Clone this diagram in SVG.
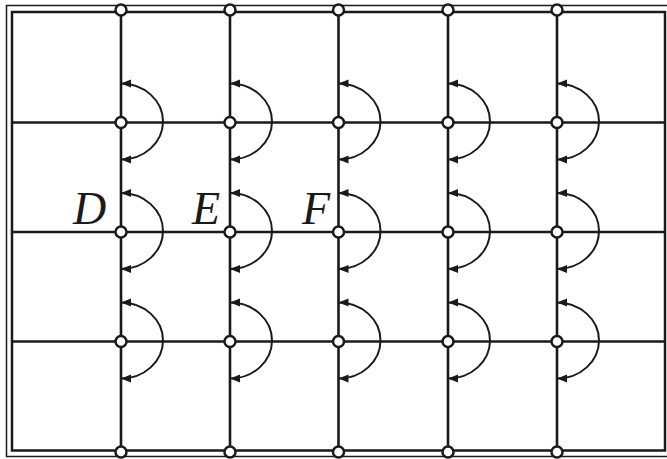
<svg xmlns="http://www.w3.org/2000/svg" width="667" height="459" viewBox="0 0 667 459">
<style>
.frame{fill:none;stroke:#1a1a1a}
.grid{stroke:#1a1a1a;stroke-width:2.6;fill:none}
.arc{stroke:#1a1a1a;stroke-width:2;fill:none;marker-start:url(#ah);marker-end:url(#ah)}
.node{fill:#fff;stroke:#1a1a1a;stroke-width:2.5}
.lbl{font-family:"Liberation Serif","Times New Roman",serif;font-style:italic;font-size:46px;fill:#1a1a1a}
</style>
<defs>
<marker id="ah" markerUnits="userSpaceOnUse" markerWidth="12" markerHeight="10" refX="10" refY="4" orient="auto-start-reverse" overflow="visible">
<path d="M0,0 L10,4 L0,8 Z" fill="#1a1a1a"/>
</marker>
</defs>
<rect width="667" height="459" fill="#fff"/>
<g id="frame">
<rect class="frame" x="6.5" y="5.5" width="670" height="451" stroke-width="1.5"/>
<rect class="frame" x="12" y="12" width="653" height="438.5" stroke-width="2.5"/>
</g>
<g id="connectors">
<line class="grid" x1="12" y1="122.5" x2="665" y2="122.5"/>
<line class="grid" x1="12" y1="232" x2="665" y2="232"/>
<line class="grid" x1="12" y1="341.5" x2="665" y2="341.5"/>
<line class="grid" x1="121" y1="10" x2="121" y2="452"/>
<line class="grid" x1="230" y1="10" x2="230" y2="452"/>
<line class="grid" x1="338.5" y1="10" x2="338.5" y2="452"/>
<line class="grid" x1="448" y1="10" x2="448" y2="452"/>
<line class="grid" x1="557" y1="10" x2="557" y2="452"/>
<path class="arc" d="M121,83.5 A42 38 0 0 1 121,159.5"/>
<path class="arc" d="M121,193 A42 38 0 0 1 121,269"/>
<path class="arc" d="M121,302.5 A42 38 0 0 1 121,378.5"/>
<path class="arc" d="M230,83.5 A42 38 0 0 1 230,159.5"/>
<path class="arc" d="M230,193 A42 38 0 0 1 230,269"/>
<path class="arc" d="M230,302.5 A42 38 0 0 1 230,378.5"/>
<path class="arc" d="M338.5,83.5 A42 38 0 0 1 338.5,159.5"/>
<path class="arc" d="M338.5,193 A42 38 0 0 1 338.5,269"/>
<path class="arc" d="M338.5,302.5 A42 38 0 0 1 338.5,378.5"/>
<path class="arc" d="M448,83.5 A42 38 0 0 1 448,159.5"/>
<path class="arc" d="M448,193 A42 38 0 0 1 448,269"/>
<path class="arc" d="M448,302.5 A42 38 0 0 1 448,378.5"/>
<path class="arc" d="M557,83.5 A42 38 0 0 1 557,159.5"/>
<path class="arc" d="M557,193 A42 38 0 0 1 557,269"/>
<path class="arc" d="M557,302.5 A42 38 0 0 1 557,378.5"/>
</g>
<g id="nodes">
<g id="n-top"><circle class="node" cx="121" cy="10" r="5.5"/><circle class="node" cx="230" cy="10" r="5.5"/><circle class="node" cx="338.5" cy="10" r="5.5"/><circle class="node" cx="448" cy="10" r="5.5"/><circle class="node" cx="557" cy="10" r="5.5"/></g>
<g id="n-r1"><circle class="node" cx="121" cy="122.5" r="5.5"/><circle class="node" cx="230" cy="122.5" r="5.5"/><circle class="node" cx="338.5" cy="122.5" r="5.5"/><circle class="node" cx="448" cy="122.5" r="5.5"/><circle class="node" cx="557" cy="122.5" r="5.5"/></g>
<g id="n-r2"><circle class="node" cx="121" cy="232" r="5.5"/><circle class="node" cx="230" cy="232" r="5.5"/><circle class="node" cx="338.5" cy="232" r="5.5"/><circle class="node" cx="448" cy="232" r="5.5"/><circle class="node" cx="557" cy="232" r="5.5"/></g>
<g id="n-r3"><circle class="node" cx="121" cy="341.5" r="5.5"/><circle class="node" cx="230" cy="341.5" r="5.5"/><circle class="node" cx="338.5" cy="341.5" r="5.5"/><circle class="node" cx="448" cy="341.5" r="5.5"/><circle class="node" cx="557" cy="341.5" r="5.5"/></g>
<g id="n-bottom"><circle class="node" cx="121" cy="452" r="5.5"/><circle class="node" cx="230" cy="452" r="5.5"/><circle class="node" cx="338.5" cy="452" r="5.5"/><circle class="node" cx="448" cy="452" r="5.5"/><circle class="node" cx="557" cy="452" r="5.5"/></g>
</g>
<g id="labels">
<text class="lbl" x="73" y="224">D</text>
<text class="lbl" x="192" y="224">E</text>
<text class="lbl" x="302" y="224">F</text>
</g>
</svg>
